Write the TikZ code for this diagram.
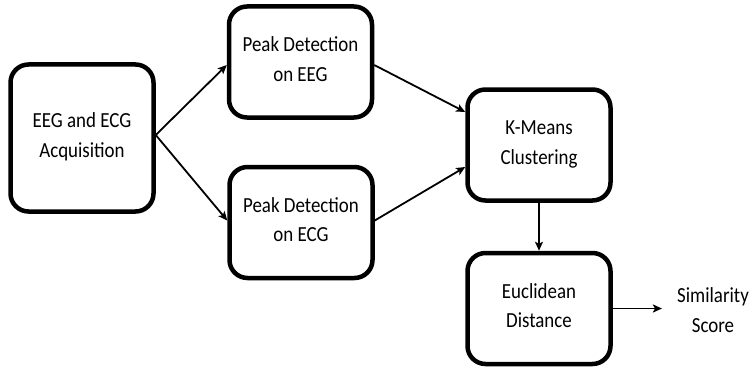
\documentclass[tikz,border=0pt]{standalone}
\usepackage{graphicx}
\usepackage{fontspec}
\setmainfont{Carlito}
\usetikzlibrary{arrows.meta}
% two centred lines, set a little narrow
\newcommand\twolines[2]{\scalebox{0.88}[1]{\def\arraystretch{1}\setlength\tabcolsep{0pt}%
  \begin{tabular}{c}#1\\[8pt]#2\end{tabular}}}
\begin{document}
\begin{tikzpicture}[x=1pt,y=-1pt,
  stagebox/.style={draw=black, line width=4.5pt, rounded corners=18pt, fill=white,
    minimum width=143pt, minimum height=111pt, align=center, inner sep=2pt,
    font=\fontsize{21.5pt}{21.5pt}\selectfont},
  flow/.style={line width=1.8pt, -{Stealth[length=9pt,width=8pt,inset=2pt]}},
  label/.style={align=center, inner xsep=15pt, font=\fontsize{21.5pt}{21.5pt}\selectfont}]
  \useasboundingbox (0,0) rectangle (752,369);

  % processing stages
  \node[stagebox, minimum height=147pt] (acq) at (82,138) {\twolines{EEG and ECG}{Acquisition}};
  \node[stagebox] (peeg) at (300.5,62) {\twolines{Peak Detection}{on EEG}};
  \node[stagebox] (pecg) at (301,222.5) {\twolines{Peak Detection}{on ECG}};
  \node[stagebox] (km) at (539,145) {\twolines{K-Means}{Clustering}};
  \node[stagebox] (eu) at (539,308.5) {\twolines{Euclidean}{Distance}};
  \node[label] (score) at (713,313) {\twolines{Similarity}{Score}};

  % connectors
  \draw[flow] ([yshift=3pt]acq.east) -- ([yshift=-3pt]peeg.west);
  \draw[flow] ([yshift=3pt]acq.east) -- ([yshift=2pt]pecg.west);
  \draw[flow] ([yshift=-3pt]peeg.east) -- ([yshift=33pt]km.west);
  \draw[flow] ([yshift=2pt]pecg.east) -- ([yshift=-22pt]km.west);
  \draw[flow] (km.south) -- (eu.north);
  \draw[flow] (eu.east) -- (eu.east -| score.west);
\end{tikzpicture}
\end{document}
